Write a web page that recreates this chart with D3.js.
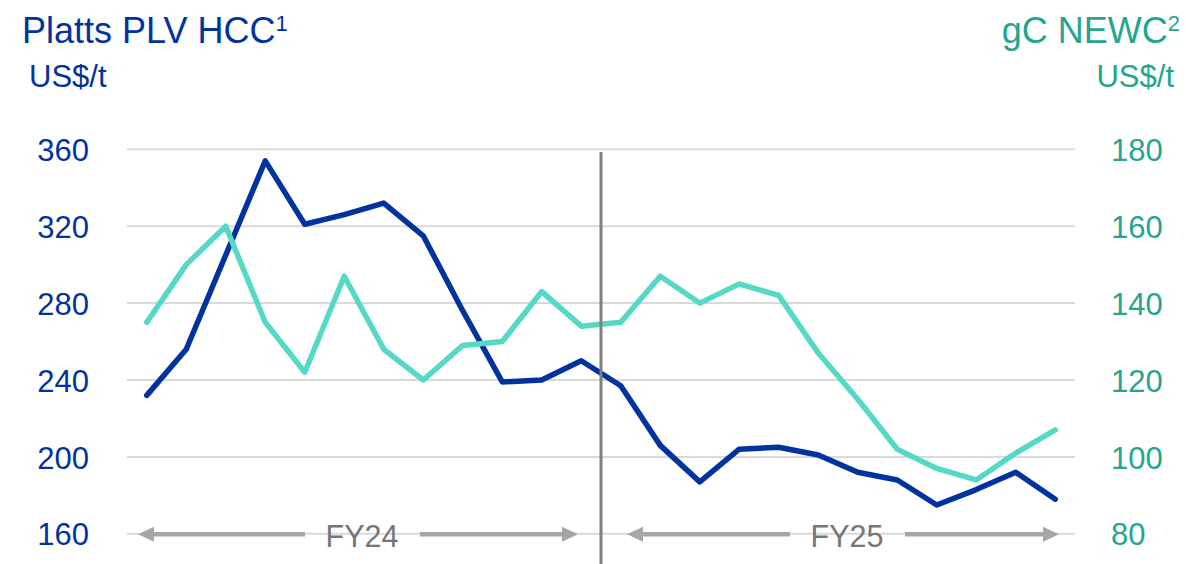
<!DOCTYPE html>
<html>
<head>
<meta charset="utf-8">
<script src="https://cdn.jsdelivr.net/npm/d3@7"></script>
<style>
  html, body { margin: 0; padding: 0; background: #ffffff; }
  svg { display: block; font-family: "Liberation Sans", Arial, sans-serif; }
</style>
</head>
<body>
<svg id="chart" width="1186" height="564"></svg>
<script>
// ---- data ----
const months = ["Jul-23","Aug-23","Sep-23","Oct-23","Nov-23","Dec-23","Jan-24","Feb-24","Mar-24","Apr-24","May-24","Jun-24",
                "Jul-24","Aug-24","Sep-24","Oct-24","Nov-24","Dec-24","Jan-25","Feb-25","Mar-25","Apr-25","May-25","Jun-25"];
const hcc  = [232, 256, 305, 354, 321, 326, 332, 315, 276, 239, 240, 250, 237, 206, 187, 204, 205, 201, 192, 188, 175, 183, 192, 178];
const newc = [135, 150, 160, 135, 122, 147, 128, 120, 129, 130, 143, 134, 135, 147, 140, 145, 142, 127, 115, 102, 97, 94, 101, 107];
const leftTicks  = [160, 200, 240, 280, 320, 360];
const rightTicks = [80, 100, 120, 140, 160, 180];
const fiscalYears = ["FY24", "FY25"];

// ---- colours ----
const darkBlue = "#0033A0";
const tealLine = "#55D9C5";
const tealText = "#24A58F";
const grid = "#D9D9D9";
const arrowGray = "#A6A6A6";
const fyGray = "#767676";

const svg = d3.select("#chart");

const x = d3.scaleBand().domain(months).range([127, 1075]).padding(0);
const cx = d => x(d) + x.bandwidth() / 2;
const yL = d3.scaleLinear().domain([160, 360]).range([533.8, 149.3]);
const yR = d3.scaleLinear().domain([80, 180]).range([533.8, 149.3]);

// gridlines
svg.append("g").selectAll("line").data(leftTicks).join("line")
  .attr("x1", 127).attr("x2", 1075)
  .attr("y1", d => yL(d)).attr("y2", d => yL(d))
  .attr("stroke", grid).attr("stroke-width", 2);

// axes
const axL = svg.append("g").attr("transform", "translate(89,0)")
  .call(d3.axisLeft(yL).tickValues(leftTicks).tickSize(0).tickPadding(0));
axL.select(".domain").remove();
axL.selectAll("text").attr("fill", darkBlue).style("font-size", "31px")
  .style("font-family", "'Liberation Sans', Arial, sans-serif").attr("dy", "0.36em");

const axR = svg.append("g").attr("transform", "translate(1111,0)")
  .call(d3.axisRight(yR).tickValues(rightTicks).tickSize(0).tickPadding(0));
axR.select(".domain").remove();
axR.selectAll("text").attr("fill", tealText).style("font-size", "31px")
  .style("font-family", "'Liberation Sans', Arial, sans-serif").attr("dy", "0.36em");

// fiscal year arrows
const boundary = x(months[12]);
const fyRanges = [
  {label: fiscalYears[0], x0: x(months[0]) + 11, x1: boundary - 23, tx: 362, gapL: 305, gapR: 420},
  {label: fiscalYears[1], x0: boundary + 26, x1: x(months[23]) + x.bandwidth() - 16, tx: 847, gapL: 790, gapR: 905}
];
const ay = 534.3;
const fy = svg.append("g");
fyRanges.forEach(r => {
  fy.append("line").attr("x1", r.x0 + 14).attr("x2", r.gapL).attr("y1", ay).attr("y2", ay)
    .attr("stroke", arrowGray).attr("stroke-width", 4.5);
  fy.append("line").attr("x1", r.gapR).attr("x2", r.x1 - 14).attr("y1", ay).attr("y2", ay)
    .attr("stroke", arrowGray).attr("stroke-width", 4.5);
  fy.append("path").attr("d", `M${r.x0},${ay} L${r.x0 + 16},${ay - 7.5} L${r.x0 + 16},${ay + 7.5} Z`).attr("fill", arrowGray);
  fy.append("path").attr("d", `M${r.x1},${ay} L${r.x1 - 16},${ay - 7.5} L${r.x1 - 16},${ay + 7.5} Z`).attr("fill", arrowGray);
  fy.append("text").attr("x", r.tx).attr("y", 546.5).attr("text-anchor", "middle")
    .attr("fill", fyGray).style("font-size", "30.5px").text(r.label);
});

// lines
const lineL = d3.line().x((d, i) => cx(months[i])).y(d => yL(d));
const lineR = d3.line().x((d, i) => cx(months[i])).y(d => yR(d));
svg.append("path").datum(hcc).attr("d", lineL).attr("fill", "none")
  .attr("stroke", darkBlue).attr("stroke-width", 5.5).attr("stroke-linejoin", "round").attr("stroke-linecap", "round");
svg.append("path").datum(newc).attr("d", lineR).attr("fill", "none")
  .attr("stroke", tealLine).attr("stroke-width", 5.5).attr("stroke-linejoin", "round").attr("stroke-linecap", "round");

// divider
svg.append("line").attr("x1", boundary).attr("x2", boundary).attr("y1", 152).attr("y2", 564)
  .attr("stroke", "#808080").attr("stroke-width", 3);

// titles
const tL = svg.append("text").attr("x", 22).attr("y", 42.5).attr("fill", darkBlue).style("font-size", "36px");
tL.append("tspan").text("Platts PLV HCC");
tL.append("tspan").attr("dy", -12).style("font-size", "22px").text("1");
svg.append("text").attr("x", 29).attr("y", 87).attr("fill", darkBlue).style("font-size", "31px").text("US$/t");

const tR = svg.append("text").attr("x", 1180).attr("y", 42.5).attr("text-anchor", "end").attr("fill", tealText).style("font-size", "36px");
tR.append("tspan").text("gC NEWC");
tR.append("tspan").attr("dy", -12).style("font-size", "22px").text("2");
svg.append("text").attr("x", 1174).attr("y", 87).attr("text-anchor", "end").attr("fill", tealText).style("font-size", "31px").text("US$/t");
</script>
</body>
</html>
